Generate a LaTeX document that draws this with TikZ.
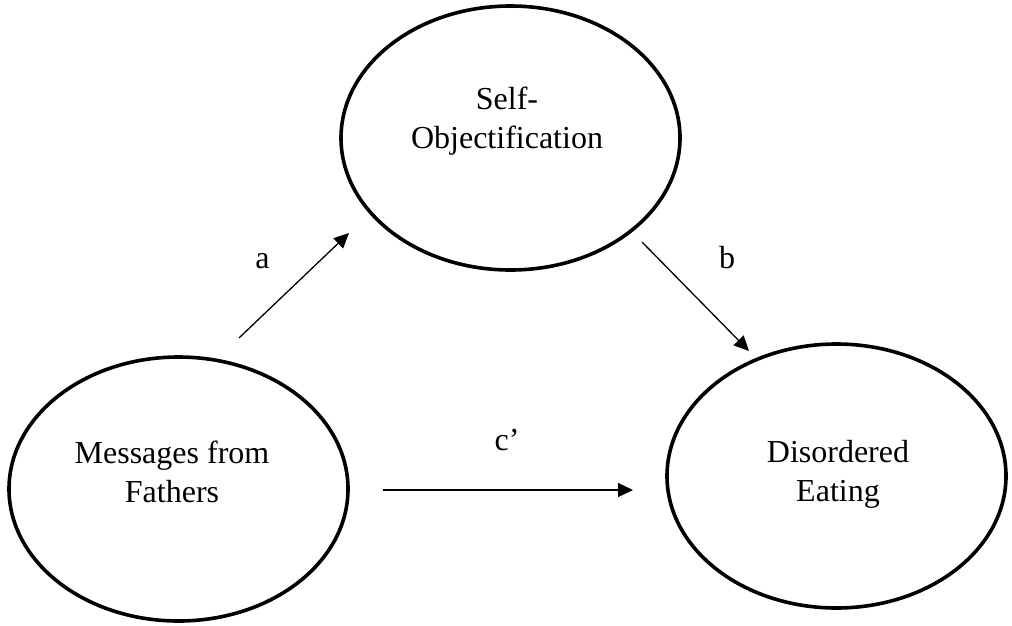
\documentclass[tikz,border=0pt]{standalone}
\usepackage{fontspec}
\setmainfont{Liberation Serif}
\usetikzlibrary{shapes.geometric,arrows.meta}
\begin{document}
\begin{tikzpicture}[x=1pt,y=-1pt,
  construct/.style={draw, ellipse, line width=3.6pt, minimum width=339pt,
    minimum height=264pt, inner sep=0pt},
  caption/.style={align=center, anchor=base, inner sep=0pt,
    font=\fontsize{32}{39}\selectfont},
  pathlabel/.style={anchor=base, inner sep=0pt, font=\fontsize{32}{39}\selectfont},
  effect/.style={line width=1.3pt, -{Triangle[length=15pt,width=14pt]}}
]
\useasboundingbox (0,0) rectangle (1012,625);

% the three constructs of the mediation model
\node[construct] (selfobj) at (510.5,138) {};
\node[construct] (msg)     at (178.5,489) {};
\node[construct] (deat)    at (836.5,476) {};

% captions: the base anchor sits on the last line's baseline
\node[caption] (selfobjtxt) at (507,148) {Self-\\Objectification};
\node[caption] (msgtxt)     at (172,502) {Messages from\\Fathers};
\node[caption] (deattxt)    at (838,501) {Disordered\\Eating};

% end points of the paths
\coordinate (aS) at (239,338);
\coordinate (aE) at (349,233);
\coordinate (bS) at (642,242);
\coordinate (bE) at (749,351);
\coordinate (cS) at (383,490);
\coordinate (cE) at (633,490);

\draw[effect] (aS) -- (aE);
\draw[effect] (bS) -- (bE);
\draw[effect] (cS) -- (cE);

\node[pathlabel] (alab) at (262.5,268) {a};
\node[pathlabel] (blab) at (727,268) {b};
\node[pathlabel] (clab) at (507,450) {c’};
\end{tikzpicture}
\end{document}
